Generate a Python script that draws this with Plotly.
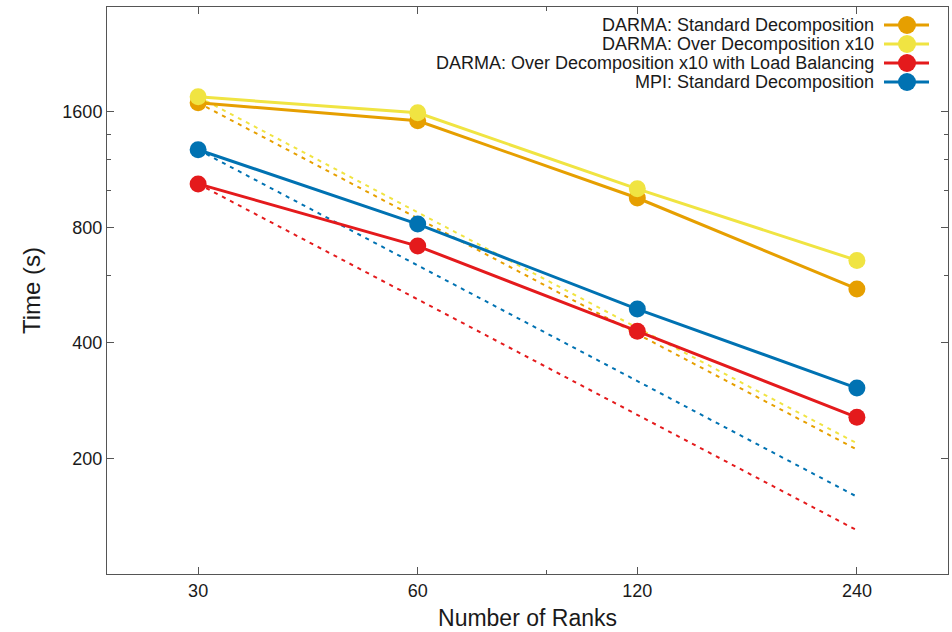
import plotly.graph_objects as go

ranks = [30, 60, 120, 240]
names = [
    "DARMA: Standard Decomposition",
    "DARMA: Over Decomposition x10",
    "DARMA: Over Decomposition x10 with Load Balancing",
    "MPI: Standard Decomposition",
]
colors = ["#E69F00", "#F0E442", "#E41A1C", "#0072B2"]

darma_std = [1689, 1516, 954, 553]
darma_od = [1750, 1590, 1008, 656]
darma_od_lb = [1038, 715, 429, 256]
mpi_std = [1274, 816, 490, 305]

# ideal scaling reference lines (dashed)
ideal_darma_std = [1689, 845, 422, 211]
ideal_darma_od = [1750, 875, 438, 219]
ideal_darma_od_lb = [1038, 519, 260, 130]
ideal_mpi_std = [1274, 637, 319, 159]

series = [darma_std, darma_od, darma_od_lb, mpi_std]
ideals = [ideal_darma_std, ideal_darma_od, ideal_darma_od_lb, ideal_mpi_std]

y_ticks = [200, 400, 800, 1600]
y_minor = [600, 1000, 1200, 1400]
x_minor = [90]

FONT = "Liberation Sans, Arial, Helvetica, sans-serif"

fig = go.Figure()

for ideal, c in zip(ideals, colors):
    fig.add_trace(go.Scatter(
        x=ranks, y=ideal, mode="lines",
        line=dict(color=c, width=2, dash="4px,5px"),
        showlegend=False, hoverinfo="skip"))

for vals, c, n in zip(series, colors, names):
    fig.add_trace(go.Scatter(
        x=ranks, y=vals, mode="lines+markers", name=n,
        line=dict(color=c, width=3),
        marker=dict(color=c, size=17, line=dict(width=0)),
        showlegend=False))

row_y = [25, 44, 63, 82]
W, H = 952, 632
plot_top, plot_bot = 7, 574
plot_l, plot_r = 107, 948
ph = plot_bot - plot_top
pw = plot_r - plot_l


def px_to_paper_x(px):
    return (px - plot_l) / pw


def px_to_paper_y(py):
    return (plot_bot - py) / ph


for n, c, ry in zip(names, colors, row_y):
    yp = px_to_paper_y(ry)
    fig.add_annotation(
        x=px_to_paper_x(876), y=yp, xref="paper", yref="paper",
        text=n, showarrow=False, xanchor="right", yanchor="middle",
        font=dict(family=FONT, size=18, color="#1a1a1a"))
    fig.add_shape(type="line", xref="paper", yref="paper",
                  x0=px_to_paper_x(884), x1=px_to_paper_x(929), y0=yp, y1=yp,
                  line=dict(color=c, width=3))
    r = 9
    fig.add_shape(type="circle", xref="paper", yref="paper",
                  x0=px_to_paper_x(907 - r), x1=px_to_paper_x(907 + r),
                  y0=px_to_paper_y(ry + r), y1=px_to_paper_y(ry - r),
                  fillcolor=c, line=dict(width=0))

axis_common = dict(
    showline=True, linecolor="#555555", linewidth=1, mirror="allticks",
    ticks="inside", ticklen=7, tickcolor="#555555", tickwidth=1,
    showgrid=False, zeroline=False,
    tickfont=dict(family=FONT, size=18, color="#1a1a1a"),
)

fig.update_xaxes(
    type="log", range=[1.3522, 2.5051],
    tickvals=ranks, ticktext=[str(r) for r in ranks],
    minor=dict(tickvals=x_minor, ticks="inside", ticklen=4, tickcolor="#555555"),
    title=dict(text="Number of Ranks", font=dict(family=FONT, size=23, color="#1a1a1a"), standoff=10),
    **axis_common)
fig.update_yaxes(
    type="log", range=[2.0, 3.4771],
    tickvals=y_ticks, ticktext=[str(v) for v in y_ticks],
    minor=dict(tickvals=y_minor, ticks="inside", ticklen=4, tickcolor="#555555"),
    title=dict(text="Time (s)", font=dict(family=FONT, size=24, color="#1a1a1a"), standoff=14),
    **axis_common)

fig.update_layout(
    width=W, height=H,
    margin=dict(l=plot_l, r=W - plot_r, t=plot_top, b=H - plot_bot),
    plot_bgcolor="white", paper_bgcolor="white",
    showlegend=False,
)

fig.write_html("out.html")
